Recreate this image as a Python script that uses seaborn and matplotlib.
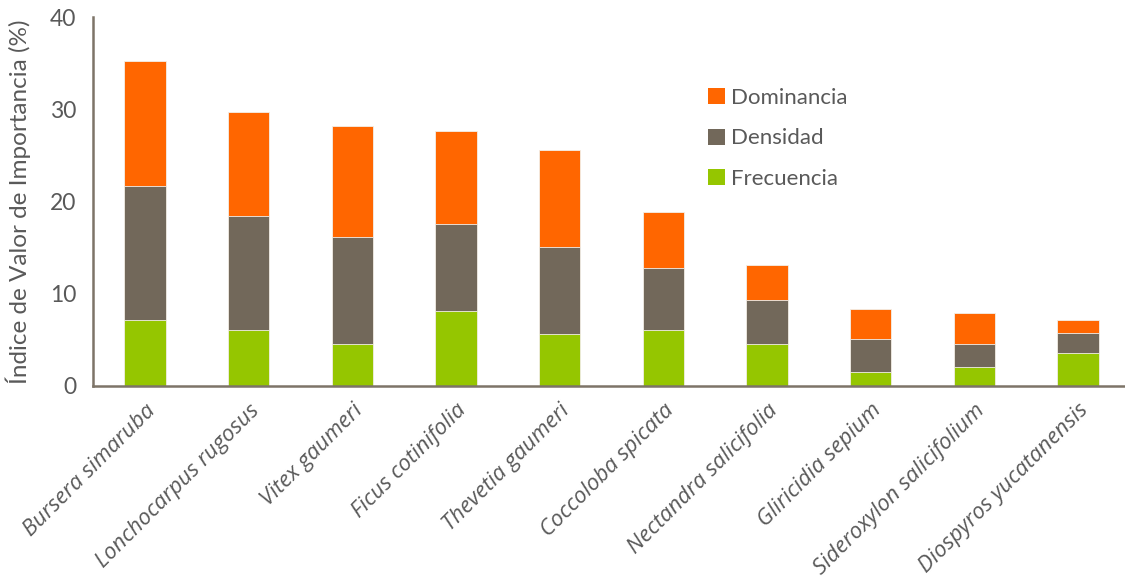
import matplotlib
matplotlib.use("Agg")
import matplotlib.pyplot as plt
import seaborn as sns
import numpy as np
from matplotlib.patches import Patch

# Species and the three components of the importance value index (%)
especies = [
    "Bursera simaruba", "Lonchocarpus rugosus", "Vitex gaumeri",
    "Ficus cotinifolia", "Thevetia gaumeri", "Coccoloba spicata",
    "Nectandra salicifolia", "Gliricidia sepium",
    "Sideroxylon salicifolium", "Diospyros yucatanensis",
]
frecuencia = [7.2, 6.1, 4.6, 8.1, 5.6, 6.1, 4.6, 1.5, 2.05, 3.6]
densidad = [14.5, 12.3, 11.6, 9.5, 9.5, 6.7, 4.7, 3.55, 2.55, 2.2]
dominancia = [13.6, 11.3, 12.0, 10.1, 10.5, 6.1, 3.8, 3.3, 3.35, 1.4]

serie_nombres = ["Dominancia", "Densidad", "Frecuencia"]
serie_colores = ["#FF6600", "#72685A", "#95C600"]
y_ticks = [0, 10, 20, 30, 40]

texto = "#595959"
eje = "#7d7468"

sns.set_style("white")
plt.rcParams["font.family"] = ["Lato", "DejaVu Sans"]

fig = plt.figure(figsize=(11.25, 5.79), dpi=100)
ax = fig.add_axes([93 / 1125, 1 - 386 / 579, 1037 / 1125, (386 - 17.3) / 579])

# Stacked bars: draw cumulative totals back to front
f = np.array(frecuencia)
d = np.array(densidad)
m = np.array(dominancia)
capas = [f + d + m, f + d, f]
for total, color in zip(capas, serie_colores):
    sns.barplot(x=especies, y=total, color=color, width=0.4, saturation=1,
                edgecolor="#f3efe9", linewidth=0.6, ax=ax, errorbar=None)

ax.set_xlim(-0.5, 9.5)
ax.set_ylim(0, 40)
ax.set_yticks(y_ticks)
ax.set_yticklabels([str(t) for t in y_ticks], fontsize=16.5, color=texto)

# Category boundaries carry the tick marks, names sit under the bars
ax.set_xticks(np.arange(-0.5, 10, 1))
ax.set_xticklabels([""] * 11)
ax.set_xticks(np.arange(10), minor=True)
ax.set_xticklabels(especies, minor=True, rotation=45, ha="right",
                   rotation_mode="anchor", fontsize=16, color=texto,
                   style="italic", family=["Open Sans", "DejaVu Sans"])
ax.tick_params(axis="x", which="major", direction="out", length=6,
               width=1.5, color=eje)
ax.tick_params(axis="x", which="minor", length=0, pad=10)
ax.tick_params(axis="y", direction="out", length=6, width=1.5, color=eje,
               pad=6)

for s in ["top", "right"]:
    ax.spines[s].set_visible(False)
for s in ["left", "bottom"]:
    ax.spines[s].set_color(eje)
    ax.spines[s].set_linewidth(1.8)

ax.set_ylabel("Índice de Valor de Importancia (%)", fontsize=17.5,
              color=texto)
ax.yaxis.set_label_coords(-0.06, 0.5)

handles = [Patch(facecolor=c, edgecolor="none") for c in serie_colores]
leg = ax.legend(handles, serie_nombres, loc="upper left",
                bbox_to_anchor=((688 - 93) / 1037, (386 - 68) / (386 - 17.3)),
                frameon=False, fontsize=16, handlelength=0.75,
                handleheight=0.75, handletextpad=0.3, labelspacing=0.92)
for t in leg.get_texts():
    t.set_color(texto)

fig.savefig("out.png", dpi=100)
